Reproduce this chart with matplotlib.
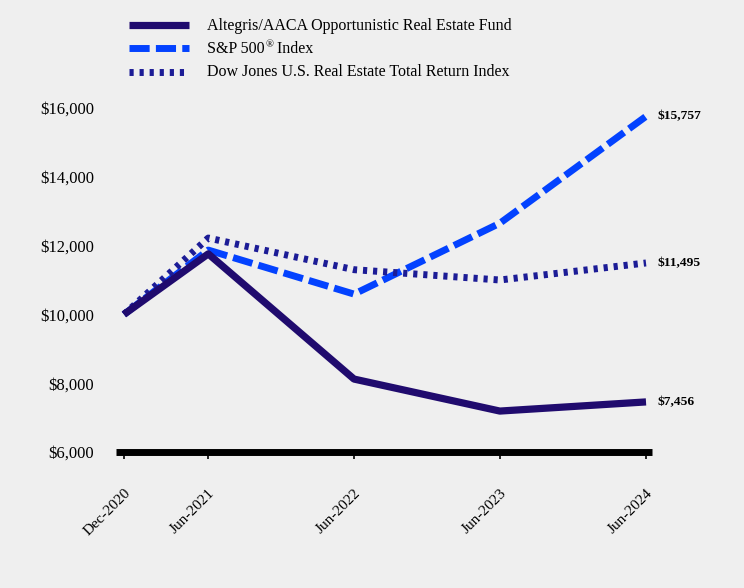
import matplotlib
matplotlib.use("Agg")
import matplotlib.pyplot as plt
from matplotlib.lines import Line2D
from datetime import datetime, timedelta

dates = ["2020-12-01", "2021-06-30", "2022-06-30", "2023-06-30", "2024-06-30"]
tick_labels = ["Dec-2020", "Jun-2021", "Jun-2022", "Jun-2023", "Jun-2024"]
fund = [10000, 11760, 8120, 7190, 7456]
sp500 = [10000, 11870, 10590, 12650, 15757]
djre = [10000, 12220, 11300, 11000, 11495]
series_names = ["Altegris/AACA Opportunistic Real Estate Fund",
                "S&P 500",
                "Dow Jones U.S. Real Estate Total Return Index"]
sp_sup = "®"
sp_suffix = " Index"
end_labels = ["$7,456", "$15,757", "$11,495"]
y_ticks = [6000, 8000, 10000, 12000, 14000, 16000]

plt.rcParams['font.family'] = ['Liberation Serif', 'DejaVu Serif']
bg = '#EFEFEF'
W, H = 744, 588
fig = plt.figure(figsize=(W / 100, H / 100), dpi=100, facecolor=bg)
ax = fig.add_axes([116/W, 1-452/H, (652-116)/W, (452-108)/H], facecolor=bg)

x = [datetime.strptime(d, "%Y-%m-%d") for d in dates]

c_fund = '#200B6E'
c_sp = '#0342FF'
c_dj = '#1C1C96'

st_sp = dict(color=c_sp, lw=5, dashes=(2.9, 0.9), dash_capstyle='butt', solid_capstyle='butt')
st_dj = dict(color=c_dj, lw=5, dashes=(0.6, 0.85), dash_capstyle='butt')
st_fund = dict(color=c_fund, lw=5.2, solid_capstyle='butt')

ax.plot(x, sp500, zorder=2, **st_sp)
ax.plot(x, djre, zorder=3, **st_dj)
ax.plot(x, fund, zorder=4, **st_fund)

for vals, lab in zip([fund, sp500, djre], end_labels):
    ax.annotate(lab, xy=(x[-1], vals[-1]), xytext=(8, 0), textcoords='offset points',
                va='center', ha='left', fontsize=9.7, fontweight='bold', color='black',
                annotation_clip=False)

ax.set_xlim(x[0] - timedelta(days=20), x[-1] + timedelta(days=15))
ax.set_ylim(6000, 16000)
ax.set_yticks(y_ticks)
ax.set_yticklabels([f"${v:,.0f}" for v in y_ticks], fontsize=12)
ax.set_xticks(x)
ax.set_xticklabels(tick_labels, fontsize=11, rotation=45, ha='right',
                   rotation_mode='anchor')
ax.tick_params(axis='y', length=0, pad=16)
ax.tick_params(axis='x', length=5, width=1.2, direction='out', pad=20)
for s in ['top', 'right', 'left']:
    ax.spines[s].set_visible(False)
ax.spines['bottom'].set_linewidth(5)
ax.spines['bottom'].set_capstyle('butt')

# legend laid out in pixel positions
def fx(px):
    return px / W

def fy(py):
    return 1 - py / H

rows = [24.5, 48, 71.5]
styles = [st_fund, st_sp, st_dj]
for ry, st in zip(rows, styles):
    fig.add_artist(Line2D([fx(129), fx(189)], [fy(ry), fy(ry)],
                          transform=fig.transFigure, **st))

leg_fs = 11.5
fig.text(fx(207), fy(rows[0] + 1), series_names[0], fontsize=leg_fs, va='center', ha='left')
t_sp = fig.text(fx(207), fy(rows[1] + 1), series_names[1], fontsize=leg_fs, va='center', ha='left')
ax.annotate(sp_sup, xy=(1, 1), xycoords=t_sp, xytext=(0.5, 0.5), textcoords='offset points',
            fontsize=7.5, va='top', ha='left', annotation_clip=False)
ax.annotate(sp_suffix, xy=(1, 0), xycoords=t_sp, xytext=(6.0, 0), textcoords='offset points',
            fontsize=leg_fs, va='bottom', ha='left', annotation_clip=False)
fig.text(fx(207), fy(rows[2] + 1), series_names[2], fontsize=leg_fs, va='center', ha='left')

fig.savefig("out.png", dpi=100, facecolor=bg)
